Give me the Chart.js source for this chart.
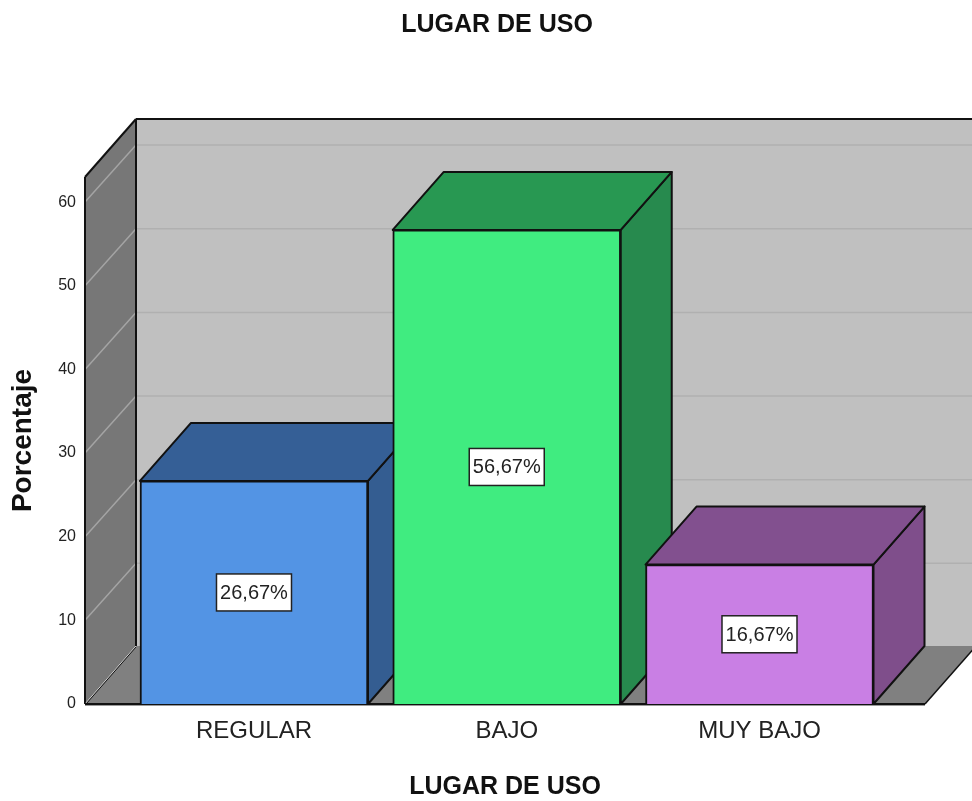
<!DOCTYPE html>
<html>
<head>
<meta charset="utf-8">
<title>LUGAR DE USO</title>
<style>
  html, body { margin: 0; padding: 0; background: #fff; }
  canvas { display: block; }
</style>
<script src="https://cdn.jsdelivr.net/npm/chart.js@4"></script>
</head>
<body>
<canvas id="chart" width="972" height="801"></canvas>
<script>
const categories = ['REGULAR', 'BAJO', 'MUY BAJO'];
const percentages = [26.67, 56.67, 16.67];
const valueLabels = ['26,67%', '56,67%', '16,67%'];
const yTicks = [0, 10, 20, 30, 40, 50, 60];

const frontColors = ['#5394e4', '#40ec80', '#c97fe4'];
const topColors = ['#355f96', '#289852', '#82508f'];
const sideColors = ['#345d91', '#278a4e', '#7f4e8b'];

const FONT = '"Liberation Sans", Arial, sans-serif';
const TEXT = '#222';
const LINE = '#111';
// depth of the fake 3D box
const DX = 51;
const DY = 58;

function poly(ctx, pts, fill, stroke, lw) {
  ctx.beginPath();
  pts.forEach((p, i) => i ? ctx.lineTo(p[0], p[1]) : ctx.moveTo(p[0], p[1]));
  ctx.closePath();
  if (fill) { ctx.fillStyle = fill; ctx.fill(); }
  if (stroke) { ctx.strokeStyle = stroke; ctx.lineWidth = lw || 2; ctx.stroke(); }
}

function segment(ctx, x1, y1, x2, y2, color, lw) {
  ctx.beginPath();
  ctx.moveTo(x1, y1);
  ctx.lineTo(x2, y2);
  ctx.strokeStyle = color;
  ctx.lineWidth = lw;
  ctx.stroke();
}

const box3d = {
  id: 'box3d',
  afterLayout(chart) {
    // title sits right of the box centre in the original
    chart.titleBlock.left += 34.5;
    chart.titleBlock.right += 34.5;
  },
  beforeDatasetsDraw(chart) {
    const { ctx, chartArea: a, scales: { y } } = chart;
    ctx.save();
    ctx.lineJoin = 'round';

    // back wall, left wall, floor
    poly(ctx, [[a.left + DX, a.top - DY], [a.right + DX, a.top - DY], [a.right + DX, a.bottom - DY], [a.left + DX, a.bottom - DY]], '#c0c0c0');
    poly(ctx, [[a.left, a.top], [a.left + DX, a.top - DY], [a.left + DX, a.bottom - DY], [a.left, a.bottom]], '#777777');
    poly(ctx, [[a.left, a.bottom], [a.left + DX, a.bottom - DY], [a.right + DX, a.bottom - DY], [a.right, a.bottom]], '#808080');

    // grid lines run across the left wall and the back wall
    yTicks.slice(1).forEach(v => {
      const py = y.getPixelForValue(v);
      segment(ctx, a.left, py, a.left + DX, py - DY + 1, '#a4a4a4', 1.5);
      segment(ctx, a.left + DX, py - DY + 1, a.right + DX, py - DY + 1, '#b0b0b0', 1.5);
    });

    // frame
    segment(ctx, a.left, a.top, a.left + DX, a.top - DY, LINE, 2);
    segment(ctx, a.left + DX, a.top - DY, a.right + DX, a.top - DY, LINE, 2);
    segment(ctx, a.left + DX, a.top - DY, a.left + DX, a.bottom - DY, LINE, 2);
    segment(ctx, a.left, a.top, a.left, a.bottom, LINE, 2);
    segment(ctx, a.left, a.bottom, a.left + DX, a.bottom - DY, '#d0d0d0', 1);
    segment(ctx, a.left + 1, a.bottom, a.left + DX, a.bottom - DY + 1, LINE, 1);
    segment(ctx, a.right, a.bottom, a.right + DX, a.bottom - DY, LINE, 1.5);
    segment(ctx, a.left, a.bottom, a.right, a.bottom, LINE, 2);
    segment(ctx, a.left, a.bottom + 1.5, a.right, a.bottom + 1.5, '#9a9a9a', 1);

    // bar tops and sides, the fronts come from the library afterwards
    chart.getDatasetMeta(0).data.forEach((bar, i) => {
      const l = bar.x - bar.width / 2;
      const r = bar.x + bar.width / 2;
      poly(ctx, [[r, bar.y], [r + DX, bar.y - DY], [r + DX, bar.base - DY], [r, bar.base]], sideColors[i], LINE, 2);
      poly(ctx, [[l, bar.y], [l + DX, bar.y - DY], [r + DX, bar.y - DY], [r, bar.y]], topColors[i], LINE, 2);
    });
    ctx.restore();
  },
  afterDatasetsDraw(chart) {
    const { ctx } = chart;
    ctx.save();
    chart.getDatasetMeta(0).data.forEach((bar, i) => {
      const cy = (bar.y + bar.base) / 2;
      ctx.fillStyle = '#fff';
      ctx.strokeStyle = '#222';
      ctx.lineWidth = 1.5;
      ctx.fillRect(bar.x - 37.5, cy - 18.5, 75, 37);
      ctx.strokeRect(bar.x - 37.5, cy - 18.5, 75, 37);
      ctx.fillStyle = TEXT;
      ctx.font = '20px ' + FONT;
      ctx.textAlign = 'center';
      ctx.textBaseline = 'middle';
      ctx.fillText(valueLabels[i], bar.x, cy + 1);
    });
    ctx.restore();
  }
};

new Chart(document.getElementById('chart'), {
  type: 'bar',
  data: {
    datasets: [{
      data: percentages.map((v, i) => ({ x: i + 1, y: v })),
      backgroundColor: frontColors,
      borderColor: LINE,
      borderWidth: 2,
      barThickness: 228
    }]
  },
  plugins: [box3d],
  options: {
    responsive: false,
    animation: false,
    layout: { padding: { right: 47 } },
    plugins: {
      legend: { display: false },
      tooltip: { enabled: false },
      title: {
        display: true,
        text: 'LUGAR DE USO',
        color: '#111',
        font: { family: FONT, size: 25, weight: 'bold', lineHeight: 1.2 },
        padding: { top: 10, bottom: 137 }
      }
    },
    scales: {
      x: {
        type: 'linear',
        offset: false,
        min: 0.3314,
        max: 3.6548,
        afterBuildTicks: s => { s.ticks = categories.map((c, i) => ({ value: i + 1 })); },
        afterFit: s => { s.height = 97; },
        grid: { display: false, drawTicks: false },
        border: { display: false },
        ticks: {
          color: TEXT,
          padding: 13,
          maxRotation: 0,
          font: { family: FONT, size: 24 },
          callback: v => categories[v - 1]
        },
        title: {
          display: true,
          text: 'LUGAR DE USO',
          color: '#111',
          font: { family: FONT, size: 25, weight: 'bold', lineHeight: 1.1 },
          padding: { top: 8, bottom: 0 }
        }
      },
      y: {
        min: 0,
        max: 63,
        afterBuildTicks: s => { s.ticks = yTicks.map(v => ({ value: v })); },
        afterFit: s => { s.width = 85; },
        grid: { display: false, drawTicks: false },
        border: { display: false },
        ticks: {
          color: TEXT,
          padding: 9,
          font: { family: FONT, size: 16 }
        },
        title: {
          display: true,
          text: 'Porcentaje',
          color: '#111',
          font: { family: FONT, size: 28, weight: 'bold', lineHeight: 1.2 },
          padding: { top: 6, bottom: 0 }
        }
      }
    }
  }
});
</script>
</body>
</html>
